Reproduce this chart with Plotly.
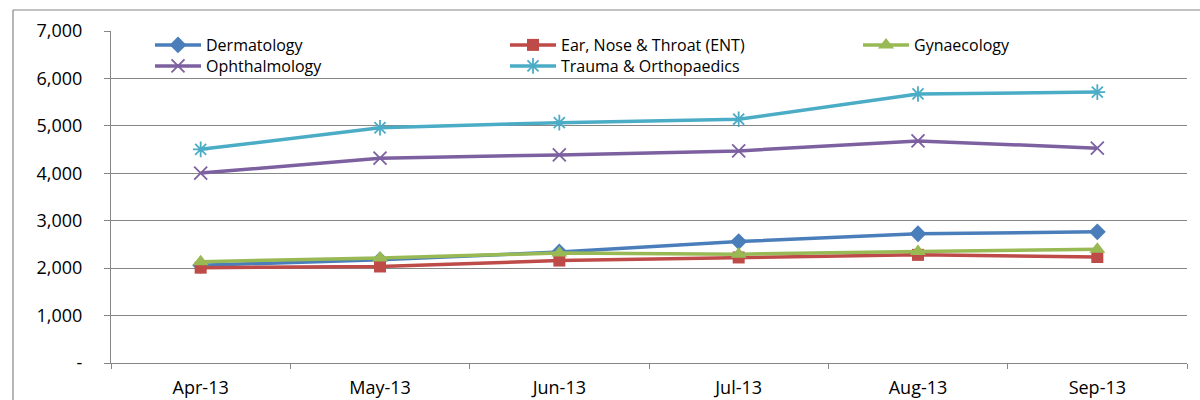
import plotly.graph_objects as go

months = ["Apr-13", "May-13", "Jun-13", "Jul-13", "Aug-13", "Sep-13"]
dermatology = [2060, 2175, 2340, 2560, 2724, 2765]
ent = [2010, 2035, 2160, 2225, 2280, 2235]
gynaecology = [2135, 2215, 2320, 2295, 2350, 2400]
ophthalmology = [4005, 4318, 4388, 4472, 4683, 4530]
trauma = [4505, 4960, 5068, 5140, 5673, 5712]

y_tickvals = [0, 1000, 2000, 3000, 4000, 5000, 6000, 7000]
y_ticktext = ["-", "1,000", "2,000", "3,000", "4,000", "5,000", "6,000", "7,000"]

# plot area geometry (pixels)
L, R, T, B = 111, 13, 31, 37
W, H = 1200 - L - R, 400 - T - B


def px_x(p):
    return (p - L) / W


def px_y(p):
    return 1 - (p - T) / H


# name, values, colour, marker, legend id, legend left px, legend centre y px
series = [
    ("Dermatology", dermatology, "#4A7EBB", dict(symbol="diamond", size=13), "legend", 150, 45),
    ("Ear, Nose & Throat (ENT)", ent, "#BE4B48", dict(symbol="square", size=12), "legend2", 505, 45),
    ("Gynaecology", gynaecology, "#98B954", dict(symbol="triangle-up", size=14), "legend3", 858, 45),
    ("Ophthalmology", ophthalmology, "#7D60A0",
     dict(symbol="x-thin-open", size=13, line=dict(width=1.8, color="#7D60A0")), "legend4", 150, 66),
    ("Trauma & Orthopaedics", trauma, "#4BACC6",
     dict(symbol="asterisk-open", size=13, line=dict(width=1.8, color="#4BACC6")), "legend5", 505, 66),
]

GRID = "#868686"
FONT = "Open Sans"

fig = go.Figure()
legends = {}
for name, vals, color, marker, leg, lx, ly in series:
    m = dict(color=color)
    m.update(marker)
    fig.add_trace(go.Scatter(
        x=months, y=vals, name=name, mode="lines+markers",
        line=dict(color=color, width=3.5), marker=m, legend=leg, showlegend=True,
    ))
    legends[leg] = dict(
        orientation="h", xanchor="left", yanchor="middle",
        x=px_x(lx), y=px_y(ly), itemwidth=46, visible=True,
        font=dict(family=FONT, size=16, color="#000000"),
        bgcolor="rgba(0,0,0,0)", borderwidth=0,
    )

fig.update_layout(
    width=1200, height=400, showlegend=True,
    margin=dict(l=L, r=R, t=T, b=B, autoexpand=False),
    paper_bgcolor="white", plot_bgcolor="white",
    font=dict(family=FONT, size=18, color="#000000"),
    xaxis=dict(
        type="category", range=[-0.5, 5.5], showgrid=False, automargin=False,
        showline=True, linecolor=GRID, linewidth=1,
        ticks="outside", tickson="boundaries", ticklen=5, tickcolor=GRID,
        ticklabelstandoff=8, tickfont=dict(family=FONT, size=18),
    ),
    yaxis=dict(
        range=[0, 7000], tickvals=y_tickvals, ticktext=y_ticktext, automargin=False,
        showgrid=True, gridcolor=GRID, gridwidth=1,
        showline=True, linecolor=GRID, linewidth=1,
        ticks="outside", ticklen=6, tickcolor=GRID,
        ticklabelstandoff=18, tickfont=dict(family=FONT, size=18),
        zeroline=False,
    ),
    shapes=[
        dict(type="line", xref="paper", yref="paper",
             x0=px_x(13), x1=1.2, y0=px_y(10), y1=px_y(10),
             line=dict(color=GRID, width=1.2)),
        dict(type="line", xref="paper", yref="paper",
             x0=px_x(13), x1=px_x(13), y0=px_y(10), y1=-0.3,
             line=dict(color=GRID, width=1.2)),
    ],
    **legends,
)

fig.write_html(
    "out.html",
    config={"displayModeBar": False},
    post_script="document.body.style.margin='0px';document.body.style.overflow='hidden';",
)
